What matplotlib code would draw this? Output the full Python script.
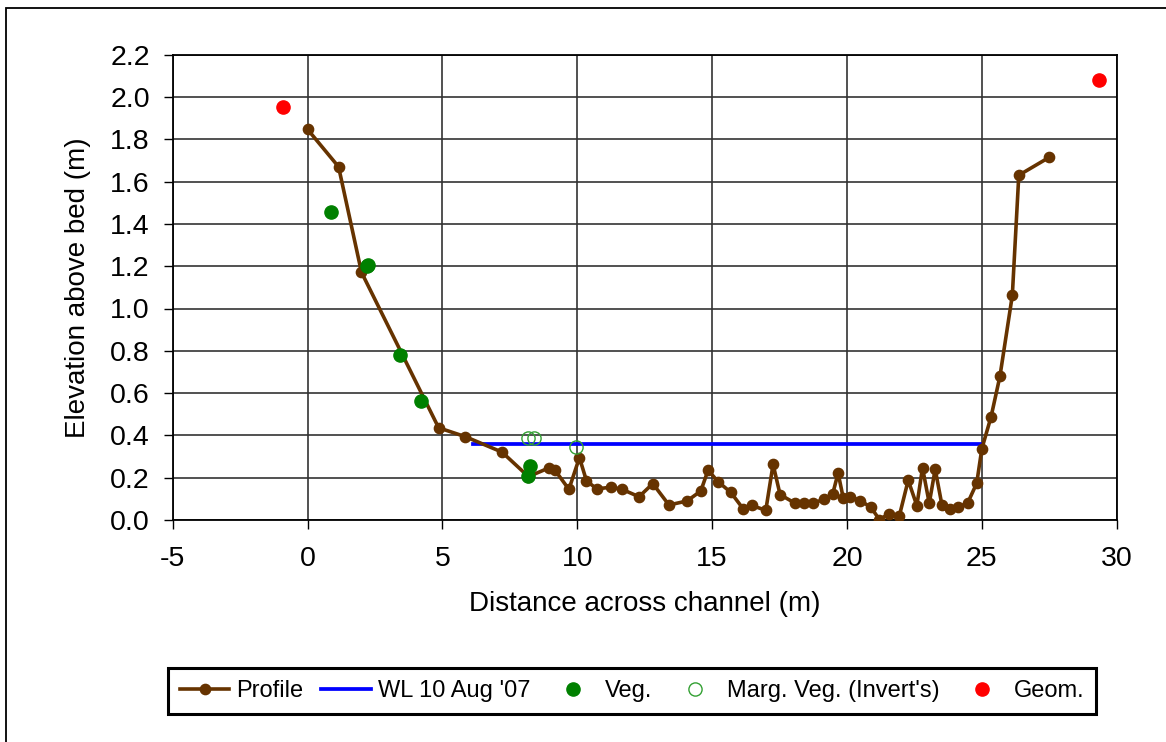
import numpy as np
import matplotlib
matplotlib.use('Agg')
import matplotlib.pyplot as plt
from matplotlib.patches import Rectangle

plt.rcParams['font.family'] = ['Liberation Sans', 'DejaVu Sans']
plt.rcParams['axes.unicode_minus'] = False

# cross-section profile
prof_x = [0.0, 1.15, 2.0, 4.86, 5.85, 7.21, 8.19, 8.96, 9.17, 9.69, 10.08, 10.34,
          10.72, 11.24, 11.66, 12.29, 12.8, 13.4, 14.07, 14.58, 14.85, 15.22, 15.69,
          16.15, 16.46, 16.99, 17.26, 17.52, 18.08, 18.42, 18.74, 19.14, 19.47,
          19.67, 19.86, 20.13, 20.5, 20.89, 21.2, 21.54, 21.94, 22.27, 22.59,
          22.8, 23.05, 23.27, 23.52, 23.83, 24.13, 24.48, 24.81, 25.0, 25.34,
          25.67, 26.13, 26.37, 27.5]
prof_y = [1.847, 1.67, 1.171, 0.436, 0.394, 0.321, 0.205, 0.247, 0.236, 0.145,
          0.295, 0.186, 0.147, 0.155, 0.145, 0.11, 0.172, 0.071, 0.09, 0.137,
          0.236, 0.181, 0.131, 0.053, 0.069, 0.046, 0.263, 0.12, 0.079, 0.079,
          0.079, 0.098, 0.123, 0.222, 0.105, 0.11, 0.091, 0.06, 0.002, 0.028,
          0.019, 0.188, 0.068, 0.247, 0.079, 0.24, 0.071, 0.052, 0.06, 0.082,
          0.174, 0.337, 0.487, 0.679, 1.062, 1.63, 1.715]

# water level
wl_x = [6.15, 25.0]
wl_y = [0.358, 0.358]

# vegetation
veg_x = [0.87, 2.22, 2.25, 3.41, 4.2, 8.19, 8.25]
veg_y = [1.455, 1.2, 1.206, 0.779, 0.563, 0.21, 0.255]

# marginal vegetation (inverts)
marg_x = [8.19, 8.41, 9.96]
marg_y = [0.388, 0.388, 0.345]

# geomorphology
geom_x = [-0.9, 29.33]
geom_y = [1.954, 2.08]

fig = plt.figure(figsize=(11.66, 7.42), dpi=100)
ax = fig.add_axes([172.7 / 1166, 1 - 520 / 742, (1116.7 - 172.7) / 1166, (520 - 54.7) / 742])

ax.plot(prof_x, prof_y, color='#663300', lw=2.6, marker='o', ms=7.4, label='Profile', zorder=4)
ax.plot(wl_x, wl_y, color='#0000ff', lw=2.7, label="WL 10 Aug '07", zorder=3)
ax.plot(veg_x, veg_y, ls='none', marker='o', ms=9.5, color='#008000', label='Veg.', zorder=5)
ax.plot(marg_x, marg_y, ls='none', marker='o', ms=9.5, mfc='none', mec='#33a033', mew=1.0,
        label="Marg. Veg. (Invert's)", zorder=5)
ax.plot(geom_x, geom_y, ls='none', marker='o', ms=9.5, color='#ff0000', label='Geom.', zorder=5)

ax.set_xlim(-5, 30)
ax.set_ylim(0, 2.2)
ax.set_xticks(np.arange(-5, 31, 5))
ax.set_yticks(np.arange(0, 2.21, 0.2))
ax.set_yticklabels(['%.1f' % v for v in np.arange(0, 2.21, 0.2)])
ax.grid(True, color='#333333', lw=1.2)
ax.set_axisbelow(True)
for s in ax.spines.values():
    s.set_color('black')
    s.set_linewidth(1.3)
ax.tick_params(direction='out', length=6.5, width=1, labelsize=20.5, pad=10, colors='black')
ax.tick_params(axis='x', pad=12)

ax.set_xlabel('Distance across channel (m)', fontsize=20, labelpad=14)
ax.set_ylabel('Elevation above bed (m)', fontsize=20, labelpad=14)

leg = fig.legend(loc='center', bbox_to_anchor=(632 / 1166, 1 - 691 / 742), ncol=5,
                 fontsize=17, frameon=True, fancybox=False, framealpha=1, handlelength=2.1,
                 handletextpad=0.3, columnspacing=0.75, borderpad=0.5, borderaxespad=0)
leg.get_frame().set_edgecolor('black')
leg.get_frame().set_linewidth(2.2)

# outer chart border
fig.patches.append(Rectangle((6 / 1166, -0.1), 1.2, 1.1 - 8 / 742, transform=fig.transFigure,
                             fill=False, edgecolor='black', lw=1.3))

fig.savefig('out.png', dpi=100)
